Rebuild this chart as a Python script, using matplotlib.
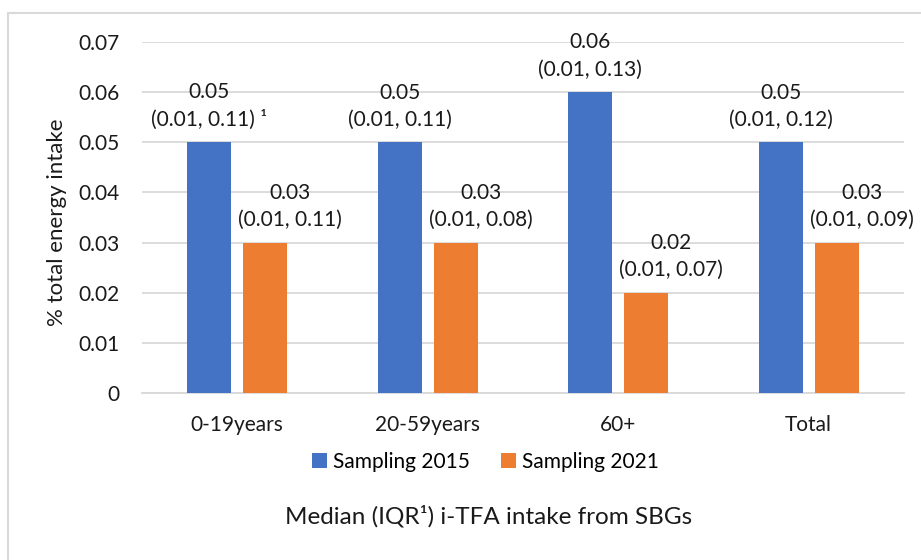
import numpy as np
import matplotlib.pyplot as plt
from matplotlib.patches import Rectangle

plt.rcParams['font.family'] = ['Lato', 'DejaVu Sans']

# data
categories = ['0-19years', '20-59years', '60+', 'Total']
median_2015 = [0.05, 0.05, 0.06, 0.05]
median_2021 = [0.03, 0.03, 0.02, 0.03]
iqr_2015 = ['(0.01, 0.11) \u00b9', '(0.01, 0.11)', '(0.01, 0.13)', '(0.01, 0.12)']
iqr_2021 = ['(0.01, 0.11)', '(0.01, 0.08)', '(0.01, 0.07)', '(0.01, 0.09)']
yticks = [0, 0.01, 0.02, 0.03, 0.04, 0.05, 0.06, 0.07]
ytick_labels = ['0', '0.01', '0.02', '0.03', '0.04', '0.05', '0.06', '0.07']

blue = '#4472C4'
orange = '#ED7D31'
grid_col = '#D9D9D9'
txt = '#1a1a1a'

fig = plt.figure(figsize=(9.21, 5.6), dpi=100)
ax = fig.add_axes([0.1542, 0.2982, 0.8273, 0.6268])

x = np.arange(len(categories))
w = 0.23
off = 0.147
b1 = ax.bar(x - off, median_2015, w, color=blue, label='Sampling 2015', zorder=3)
b2 = ax.bar(x + off, median_2021, w, color=orange, label='Sampling 2021', zorder=3)

# data labels: median on top, IQR below
for xi, v, iqr in zip(x, median_2015, iqr_2015):
    ax.annotate(f'{v:.2f}\n{iqr}', xy=(xi - off, v), xytext=(0, 9),
                textcoords='offset points', ha='center', va='bottom',
                fontsize=15, color=txt, linespacing=1.45)
for xi, v, iqr in zip(x, median_2021, iqr_2021):
    ax.annotate(f'{v:.2f}\n{iqr}', xy=(xi + off, v), xytext=(18, 9),
                textcoords='offset points', ha='center', va='bottom',
                fontsize=15, color=txt, linespacing=1.45)

ax.set_xlim(-0.5, len(categories) - 0.5)
ax.set_ylim(0, 0.07)
ax.set_yticks(yticks)
ax.set_yticklabels(ytick_labels)
ax.set_xticks(x)
ax.set_xticklabels(categories)
ax.tick_params(axis='both', length=0, labelsize=15, colors=txt)
ax.tick_params(axis='y', pad=16)
ax.tick_params(axis='x', pad=16)

ax.yaxis.grid(True, color=grid_col, linewidth=1.3, zorder=0)
for s in ['top', 'right', 'left']:
    ax.spines[s].set_visible(False)
ax.spines['bottom'].set_color(grid_col)
ax.spines['bottom'].set_linewidth(1.3)

fig.text(0.062, 0.604, '% total energy intake', rotation=90, ha='center',
         va='center', fontsize=16, color=txt)

fig.legend(handles=[b1, b2], loc='center', bbox_to_anchor=(0.527, 0.175),
           ncol=2, frameon=False, fontsize=15, handlelength=0.7,
           handleheight=0.7, handletextpad=0.3, columnspacing=1.5)

fig.text(0.530, 0.079, 'Median (IQR\u00b9) i-TFA intake from SBGs', ha='center',
         va='center', fontsize=17.5, color=txt)

# light frame round the chart
fig.patches.append(Rectangle((8 / 921, -0.05), 1.0, 1 - 13 / 560 + 0.05,
                             transform=fig.transFigure, fill=False,
                             edgecolor=grid_col, linewidth=1.5))

plt.savefig('out.png', dpi=100)
